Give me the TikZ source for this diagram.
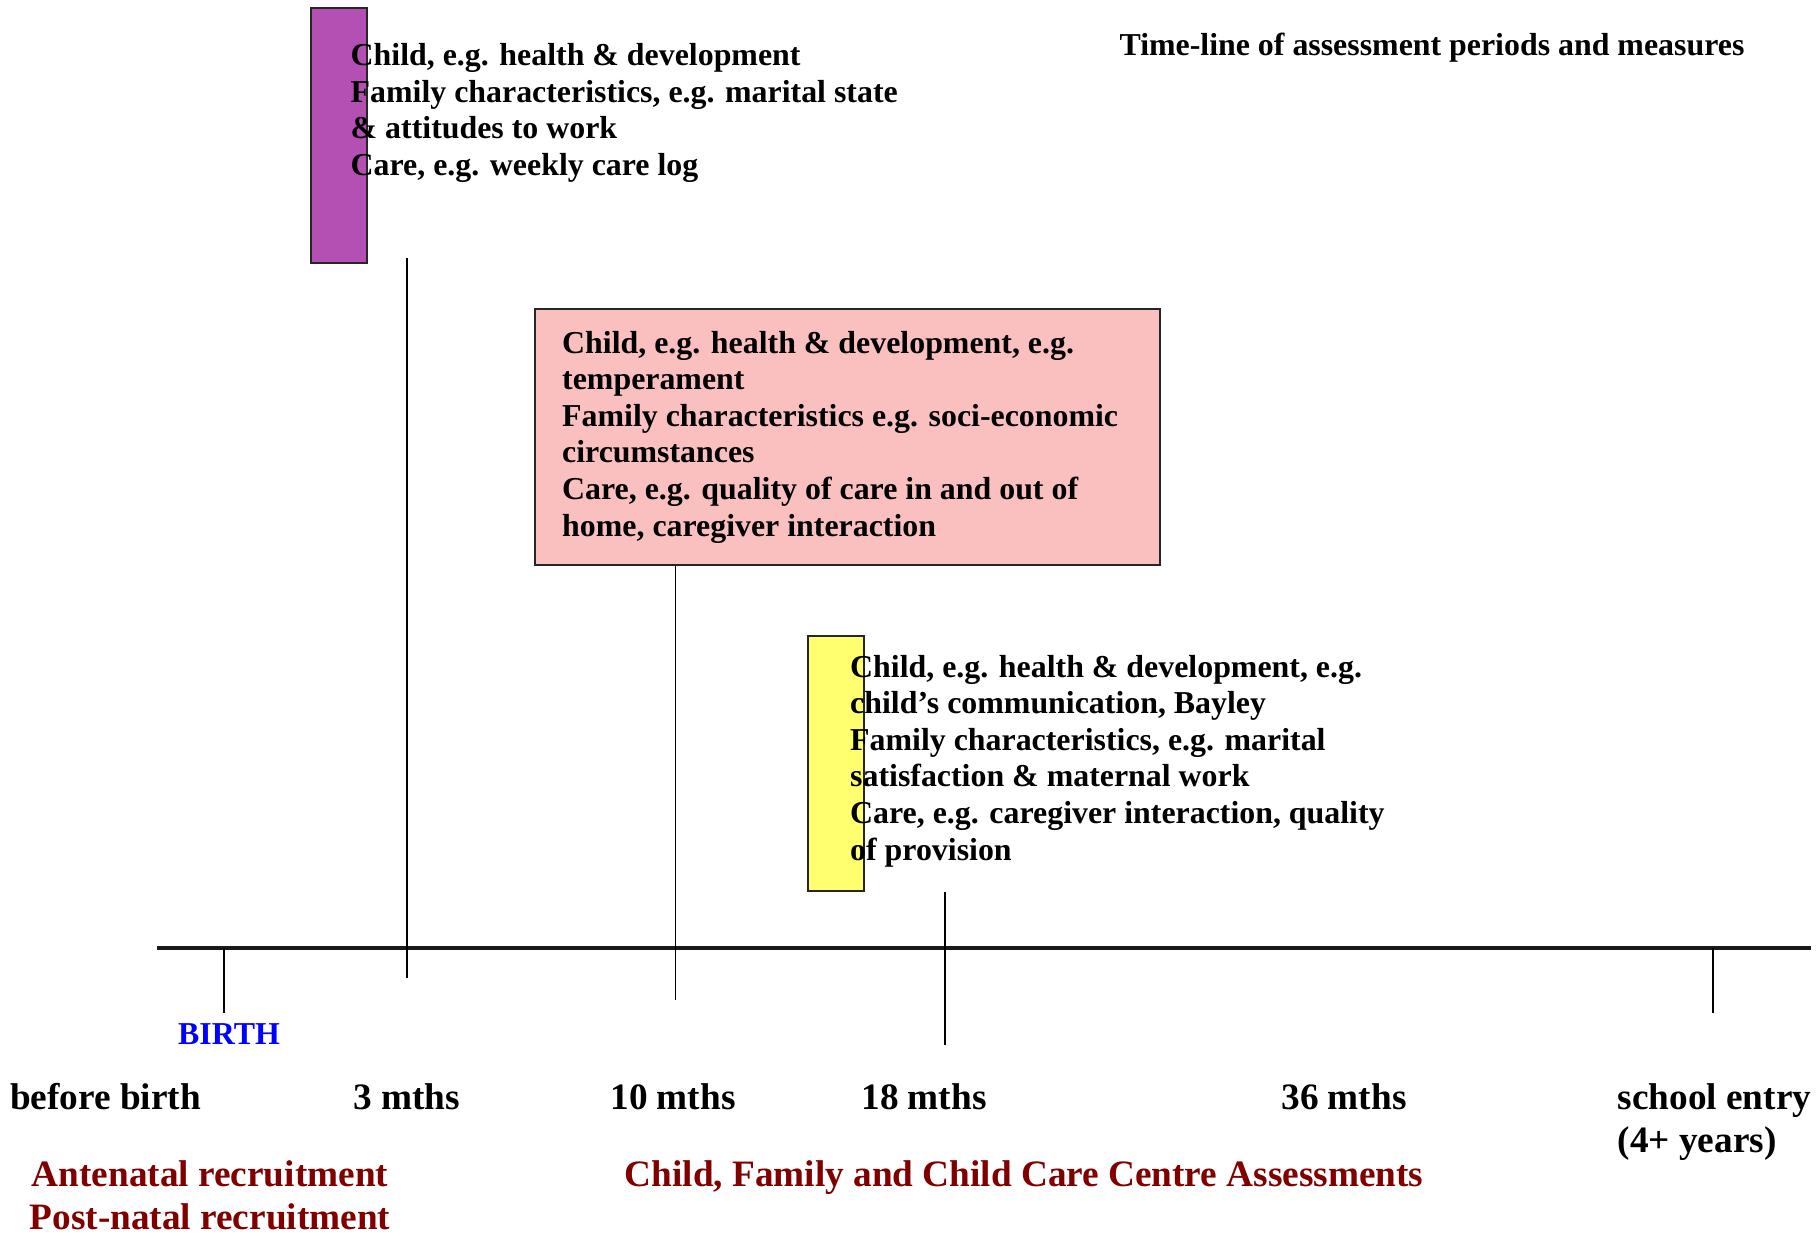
\documentclass[tikz,border=0pt]{standalone}
\usepackage{fontspec}
\setmainfont{Liberation Serif}
\usepackage{xcolor}
\usepackage{tikz}
\usetikzlibrary{positioning}
\definecolor{plumfill}{RGB}{180,80,180}
\definecolor{rosefill}{RGB}{250,192,192}
\definecolor{lemonfill}{RGB}{255,255,112}
\definecolor{maroonred}{RGB}{128,0,0}
\definecolor{birthblue}{RGB}{0,0,255}
\tikzset{
  measurebox/.style={rectangle,draw=black!85,line width=0.6pt,inner sep=0pt},
  tickline/.style={line width=0.45pt,draw=black},
  axisline/.style={line width=0.9pt,draw=black!90}
}

\begin{document}
\begin{tikzpicture}[
  boxtext/.style={font=\bfseries\fontsize{9.07}{10.4}\selectfont,align=left,anchor=north west,inner sep=0pt},
  agelabel/.style={font=\bfseries\fontsize{10.6}{12.2}\selectfont,inner sep=0pt},
  phaselabel/.style={agelabel,text=maroonred,align=center},
  titletext/.style={font=\bfseries\fontsize{9.07}{10.4}\selectfont,inner sep=0pt}
]
\useasboundingbox (0,0) rectangle (18.20,12.39);

\node[titletext] (title) at (14.32,11.915)
  {Time-line of assessment periods and measures};

% assessment periods
\node[measurebox,fill=plumfill,minimum width=0.56cm,minimum height=2.55cm]
  (box3m) at (3.39,11.035) {};
\node[measurebox,fill=rosefill,minimum width=6.25cm,minimum height=2.56cm]
  (box10m) at (8.475,8.02) {};
\node[measurebox,fill=lemonfill,minimum width=0.56cm,minimum height=2.55cm]
  (box18m) at (8.36,4.755) {};

\node[boxtext] (txt3m) at (3.50,11.96)
  {Child, e.g. health \& development\\
   Family characteristics, e.g. marital state\\
   \& attitudes to work\\
   Care, e.g. weekly care log};
\node[boxtext] (txt10m) at (5.615,9.085)
  {Child, e.g. health \& development, e.g.\\
   temperament\\
   Family characteristics e.g. soci-economic\\
   circumstances\\
   Care, e.g. quality of care in and out of\\
   home, caregiver interaction};
\node[boxtext] (txt18m) at (8.495,5.845)
  {Child, e.g. health \& development, e.g.\\
   child’s communication, Bayley\\
   Family characteristics, e.g. marital\\
   satisfaction \& maternal work\\
   Care, e.g. caregiver interaction, quality\\
   of provision};

% time axis and ticks
\coordinate (axL) at (1.57,2.91);
\coordinate (axR) at (18.11,2.91);
\draw[axisline] (axL) -- (axR);

\coordinate (tBirth) at (2.24,2.26);
\coordinate (t3top)  at (4.07,9.81);
\coordinate (t3bot)  at (4.07,2.61);
\coordinate (t10bot) at (6.755,2.385);
\coordinate (t18bot) at (9.45,1.94);
\coordinate (tSchool) at (17.13,2.26);

\draw[tickline] (axL -| tBirth) -- (tBirth);
\draw[tickline] (t3top) -- (t3bot);
\draw[tickline] (box10m.south -| t10bot) -- (t10bot);
\draw[tickline] (box18m.south -| t18bot) -- (t18bot);
\draw[tickline] (axL -| tSchool) -- (tSchool);

\node[titletext,text=birthblue,below=0.1cm of tBirth,xshift=0.05cm] (birth) {BIRTH};

\node[agelabel] (ageBefore) at (1.055,1.42) {before birth};
\node[agelabel] (age3)  at (4.065,1.42) {3 mths};
\node[agelabel] (age10) at (6.73,1.42) {10 mths};
\node[agelabel] (age18) at (9.24,1.42) {18 mths};
\node[agelabel] (age36) at (13.44,1.42) {36 mths};
\node[agelabel,align=left,anchor=north west] (ageSchool) at (16.17,1.56)
  {school entry\\(4+ years)};

\node[phaselabel] (recruit) at (2.10,0.44)
  {Antenatal recruitment\\Post-natal recruitment};
\node[phaselabel] (assess) at (10.24,0.61)
  {Child, Family and Child Care Centre Assessments};

\end{tikzpicture}
\end{document}
